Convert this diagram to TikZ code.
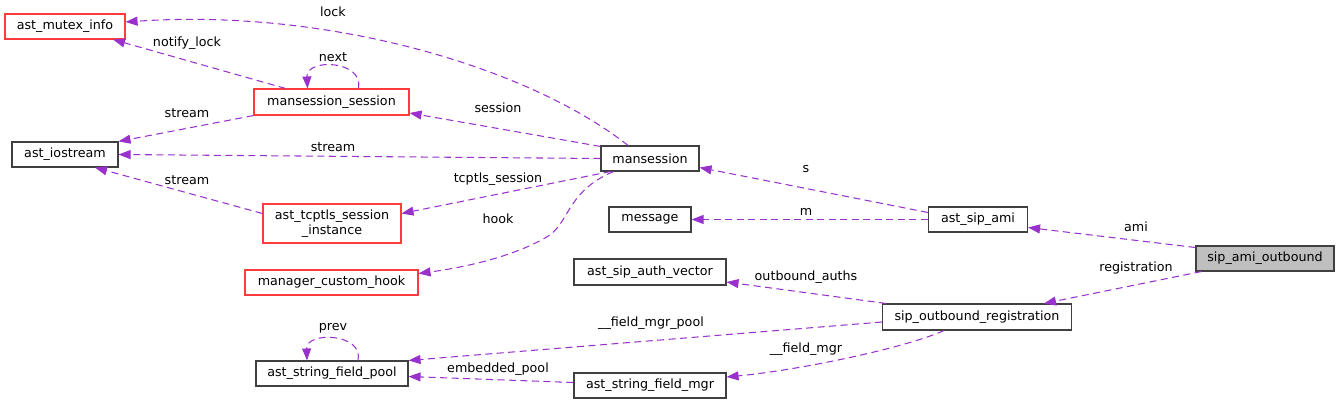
\documentclass[tikz,border=0pt]{standalone}
\usepackage{fontspec}
\setmainfont{DejaVu Sans}
\usetikzlibrary{arrows.meta}
\definecolor{edgecol}{RGB}{153,50,204}
\definecolor{boxgray}{RGB}{64,64,64}
\definecolor{redbox}{RGB}{255,60,60}
\definecolor{selfill}{RGB}{191,191,191}
\tikzset{
  cls/.style={rectangle, draw=boxgray, line width=1.1pt, inner sep=0pt, align=center,
    font=\fontsize{12.7}{15}\selectfont, anchor=center},
  redcls/.style={cls, draw=redbox},
  rel/.style={draw=edgecol, line width=1.05pt, dash pattern=on 7pt off 4.5pt,
    -{Triangle[length=12pt,width=9pt]}},
  lbl/.style={inner sep=0pt, font=\fontsize{12.7}{15}\selectfont, anchor=center}
}
\begin{document}
\begin{tikzpicture}[x=1pt,y=-1pt]
\useasboundingbox (0,0) rectangle (1340,404);
% nodes
\node[redcls, minimum width=120pt, minimum height=25pt] (mutex) at (65,26.5) {ast\_mutex\_info};
\node[redcls, minimum width=155pt, minimum height=26pt] (mss) at (331.5,102) {mansession\_session};
\node[cls, minimum width=106pt, minimum height=25pt] (ios) at (65,154.5) {ast\_iostream};
\node[redcls, minimum width=138pt, minimum height=39pt] (tcp) at (332,223.5) {ast\_tcptls\_session\\\_instance};
\node[redcls, minimum width=173pt, minimum height=25pt] (hook) at (331.5,282.5) {manager\_custom\_hook};
\node[cls, minimum width=152pt, minimum height=25pt] (pool) at (332,373.5) {ast\_string\_field\_pool};
\node[cls, minimum width=98pt, minimum height=25pt] (mans) at (650,158.5) {mansession};
\node[cls, minimum width=82pt, minimum height=25pt] (msg) at (650,219.5) {message};
\node[cls, minimum width=99pt, minimum height=25pt] (ami) at (978,219.5) {ast\_sip\_ami};
\node[cls, fill=selfill, minimum width=138pt, minimum height=25pt] (out) at (1265,258.5) {sip\_ami\_outbound};
\node[cls, minimum width=152pt, minimum height=26pt] (auth) at (650,272) {ast\_sip\_auth\_vector};
\node[cls, minimum width=189pt, minimum height=26pt] (reg) at (977,317) {sip\_outbound\_registration};
\node[cls, minimum width=152pt, minimum height=25pt] (mgr) at (650,385.5) {ast\_string\_field\_mgr};
% edges
\draw[rel] ([xshift=-22pt]mans.north) .. controls (530,68) and (330,8) .. ([yshift=4.5pt]mutex.east);
\draw[rel] ([xshift=-46pt]mss.north) -- ([xshift=48pt]mutex.south);
\draw[rel] ([xshift=27pt]mss.north) .. controls (364,60) and (306,58) .. ([xshift=-24pt]mss.north);
\draw[rel] (mss.south west) -- (ios.north east);
\draw[rel] ([yshift=-1pt]mans.north west) -- ([yshift=-11pt]mss.east);
\draw[rel] (mans.west) -- (ios.east);
\draw[rel] ([yshift=10pt]tcp.west) -- ([xshift=30pt]ios.south);
\draw[rel] ([xshift=10pt]mans.south west) -- ([yshift=10pt]tcp.east);
\draw[rel] ([xshift=13pt]mans.south west) .. controls (565,192) and (570,225) .. (545,238)
  .. controls (510,258) and (460,268) .. ([yshift=9pt]hook.east);
\draw[rel] ([yshift=7pt]ami.west) -- ([yshift=-9pt]mans.east);
\draw[rel] (ami.west) -- (msg.east);
\draw[rel] ([yshift=11pt]out.west) -- ([yshift=-8pt]ami.east);
\draw[rel] ([xshift=6pt]out.south west) -- ([xshift=67pt]reg.north);
\draw[rel] ([xshift=4pt]reg.north west) -- ([yshift=-10pt]auth.east);
\draw[rel] ([yshift=-5pt]reg.west) -- (pool.north east);
\draw[rel] ([xshift=-33pt]reg.south) .. controls (905,348) and (800,370) .. ([yshift=8.5pt]mgr.east);
\draw[rel] ([yshift=3pt]mgr.west) -- ([yshift=-3pt]pool.east);
\draw[rel] ([xshift=26pt]pool.north) .. controls (364,333) and (306,331) .. ([xshift=-25pt]pool.north);
% labels
\node[lbl] (l1) at (333,12) {lock};
\node[lbl] (l2) at (187,43) {notify\_lock};
\node[lbl] (l3) at (333,57) {next};
\node[lbl] (l4) at (187,113) {stream};
\node[lbl] (l5) at (498,108) {session};
\node[lbl] (l6) at (333,147) {stream};
\node[lbl] (l7) at (187,180) {stream};
\node[lbl] (l8) at (498,179) {tcptls\_session};
\node[lbl] (l9) at (498,219) {hook};
\node[lbl] (l10) at (806,169) {s};
\node[lbl] (l11) at (806,212) {m};
\node[lbl] (l12) at (1136,227) {ami};
\node[lbl] (l13) at (1136,268) {registration};
\node[lbl] (l14) at (806,277) {outbound\_auths};
\node[lbl] (l15) at (651,323) {\_\_field\_mgr\_pool};
\node[lbl] (l16) at (806,349) {\_\_field\_mgr};
\node[lbl] (l17) at (498,369) {embedded\_pool};
\node[lbl] (l18) at (333,328) {prev};
\end{tikzpicture}
\end{document}
